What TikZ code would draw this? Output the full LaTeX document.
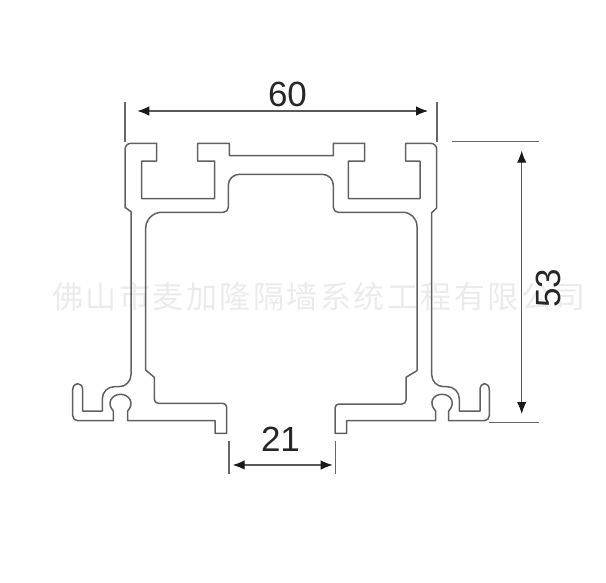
\documentclass[tikz,border=0pt]{standalone}
\usepackage{fontspec}
\setmainfont{Liberation Sans}
\newfontfamily\cjk[LetterSpace=8]{Noto Sans CJK SC}
\usetikzlibrary{arrows.meta}
\tikzset{
	profile/.style={draw=black!62,line width=1.5pt,line join=round},
	extline/.style={draw=black!60,line width=1.2pt},
	dimline/.style={draw=black!65,line width=1.1pt,{Latex[length=12pt,width=9.5pt,color=black!90]}-{Latex[length=12pt,width=9.5pt,color=black!90]}},
	dimtext/.style={font=\fontsize{35}{35}\selectfont,text=black!85,inner sep=0pt},
	stamp/.style={font=\cjk\fontsize{31}{31}\selectfont,text=black!8,inner sep=0pt}
}
\begin{document}
\begin{tikzpicture}[x=1pt,y=-1pt]
	\useasboundingbox (0,0) rectangle (606,582);

	\node[stamp] (stampname) at (319,297) {佛山市麦加隆隔墙系统工程有限公司};

	% top of the section, left to right
	\draw[profile] (125,150) [rounded corners=6pt] -- (125,143.3) [sharp corners] -- (156.7,143.3) -- (156.7,161) -- (141.7,161) -- (141.7,198.5) -- (214.7,198.5) -- (214.7,161) -- (197.7,161) -- (197.7,143.3) -- (229.3,143.3) -- (229.3,155.7) -- (333.3,155.7) -- (333.3,143.3) -- (364.7,143.3) -- (364.7,161) -- (348.3,161) -- (348.3,198.5) -- (420,198.5) -- (420,161) -- (405.7,161) -- (405.7,143.3) -- (430,143.3)
	[rounded corners=6pt] -- (436.7,143.3) -- (436.7,160) [sharp corners] -- (436.7,208) -- (431.7,212.7)
	% right foot
	[rounded corners=12pt] -- (431.7,386.7) -- (459.3,386.7) [sharp corners] -- (459.3,411) -- (480,411) -- (480,390) .. controls (480,381.5) and (489.3,381.5) .. (489.3,390)
	[rounded corners=5pt] -- (489.3,420.7) -- (470,420.7) [sharp corners] -- (448.7,420.7) -- (448.7,411) .. controls (456,403) and (451,394.3) .. (442,394.3) .. controls (433,394.3) and (428,403) .. (435.7,411) -- (435.7,420.7) -- (346.7,420.7) -- (346.7,433.3) -- (335,433.3)
	[rounded corners=4pt] -- (335,404) -- (406,404) [sharp corners] -- (406,377.3) -- (417,370.7)
	% inner wall and top of the hollow
	[rounded corners=14pt] -- (417,212.3) [rounded corners=5pt] -- (333.3,212.3) [rounded corners=11pt] -- (333.3,174.3) -- (228.3,174.3) [rounded corners=5pt] -- (228.3,212.3) [rounded corners=16pt] -- (145.7,212.3) [sharp corners] -- (145.7,370) -- (154.3,377.3)
	% left foot
	[rounded corners=4pt] -- (154.3,403.3) -- (226.7,403.3) [sharp corners] -- (226.7,433.3) -- (215,433.3) -- (215,420.7) -- (127.7,420.7) -- (127.7,411) .. controls (135,403) and (129,394.3) .. (120.5,394.3) .. controls (112,394.3) and (106,403) .. (113.3,411) -- (113.3,420.7)
	[rounded corners=5pt] -- (72.7,420.7) [sharp corners] -- (72.7,390) .. controls (72.7,381.5) and (82.7,381.5) .. (82.7,390) -- (82.7,411) -- (102.3,411)
	[rounded corners=12pt] -- (102.3,386.7) -- (131,386.7) [sharp corners] -- (131,211.7) -- (125,207.3) -- cycle;

	\coordinate (topleftup) at (125,101.5);
	\coordinate (topleftlow) at (125,141.5);
	\coordinate (toprightup) at (437,101.5);
	\coordinate (toprightlow) at (437,141.5);
	\coordinate (widthleft) at (137.3,111);
	\coordinate (widthright) at (428,111);
	\draw[extline] (topleftup) -- (topleftlow);
	\draw[extline] (toprightup) -- (toprightlow);
	\draw[dimline] (widthleft) -- (widthright);
	\node[dimtext] (widthtext) at (287.5,94.5) {60};

	\coordinate (sidetopin) at (452,141.7);
	\coordinate (sidetopout) at (539,141.7);
	\coordinate (sidelowin) at (489,422.7);
	\coordinate (sidelowout) at (539,422.7);
	\coordinate (heighttop) at (521.7,150.7);
	\coordinate (heightlow) at (521.7,414);
	\draw[extline] (sidetopin) -- (sidetopout);
	\draw[extline] (sidelowin) -- (sidelowout);
	\draw[dimline] (heighttop) -- (heightlow);
	\node[dimtext,rotate=90] (heighttext) at (548,288) {53};

	\coordinate (gapleftup) at (229,440.7);
	\coordinate (gapleftlow) at (229,474.3);
	\coordinate (gaprightup) at (335.7,440.7);
	\coordinate (gaprightlow) at (335.7,474.3);
	\coordinate (gapleft) at (232.7,465);
	\coordinate (gapright) at (332.7,465);
	\draw[extline] (gapleftup) -- (gapleftlow);
	\draw[extline] (gaprightup) -- (gaprightlow);
	\draw[dimline] (gapleft) -- (gapright);
	\node[dimtext] (gaptext) at (280.5,439) {21};
\end{tikzpicture}
\end{document}
